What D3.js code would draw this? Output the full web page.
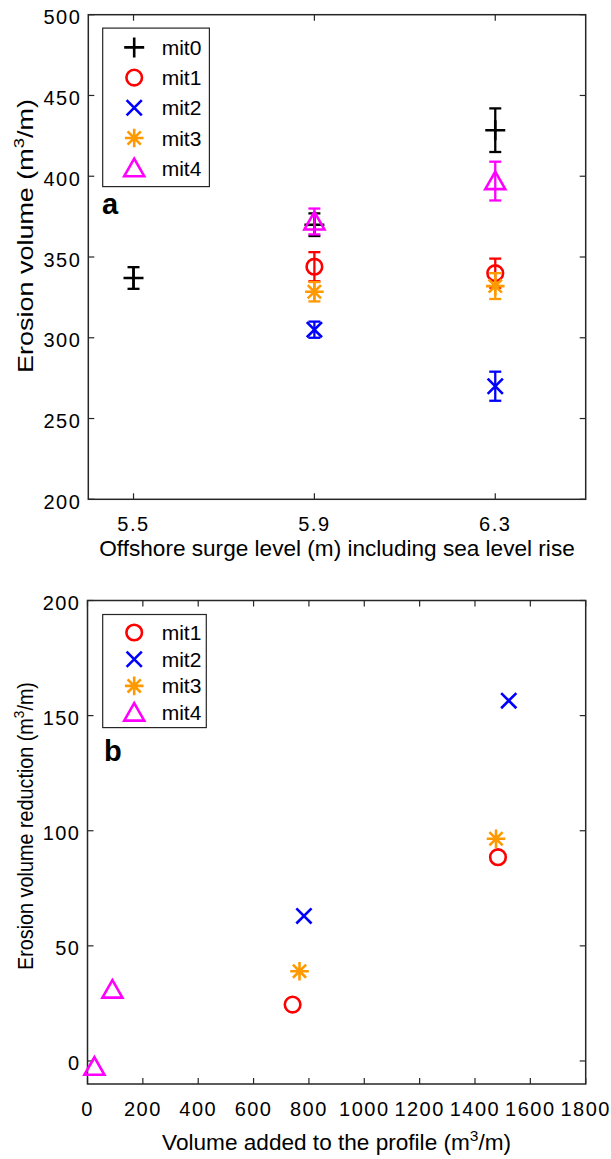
<!DOCTYPE html>
<html>
<head>
<meta charset="utf-8">
<script src="https://cdn.jsdelivr.net/npm/d3@7"></script>
<style>
  body { margin: 0; background: #fff; }
  text { font-family: "Liberation Sans", Arial, sans-serif; fill: #000; }
  .tick-label { font-size: 20px; letter-spacing: 1.5px; }
  .axis-label { font-size: 22.6px; }
  .legend-label { font-size: 21px; }
  .panel-label { font-size: 29px; font-weight: bold; }
</style>
</head>
<body>
<div id="chart"></div>
<script>
// ---- data, panel a ----
const surgeLevels = [5.5, 5.9, 6.3];
const mit0Volume = [337, 370, 428.5];
const mit0Err = [6.7, 7, 13.5];
const mit1Volume = [null, 344, 340];
const mit1Err = [null, 9, 9];
const mit2Volume = [null, 305, 270];
const mit2Err = [null, 5, 9];
const mit3Volume = [null, 328.5, 332];
const mit3Err = [null, 6, 8];
const mit4Volume = [null, 372, 397];
const mit4Err = [null, 8, 12];

// ---- data, panel b ----
const mit1Added = [741, 1483];
const mit1Reduction = [24.5, 88.5];
const mit2Added = [782, 1522];
const mit2Reduction = [63, 156.5];
const mit3Added = [766, 1476];
const mit3Reduction = [39, 96.5];
const mit4Added = [25, 90];
const mit4Reduction = [-2.5, 31];

const surgeTicks = [5.5, 5.9, 6.3];
const volumeTicks = [200, 250, 300, 350, 400, 450, 500];
const addedTicks = [0, 200, 400, 600, 800, 1000, 1200, 1400, 1600, 1800];
const reductionTicks = [0, 50, 100, 150, 200];

const seriesA = [
  { name: "mit0", marker: "plus", color: "#000000", values: mit0Volume, err: mit0Err },
  { name: "mit1", marker: "circle", color: "#ff0000", values: mit1Volume, err: mit1Err },
  { name: "mit2", marker: "cross", color: "#0000ff", values: mit2Volume, err: mit2Err },
  { name: "mit3", marker: "star", color: "#ff9900", values: mit3Volume, err: mit3Err },
  { name: "mit4", marker: "triangle", color: "#ff00ff", values: mit4Volume, err: mit4Err }
];
const seriesB = [
  { name: "mit1", marker: "circle", color: "#ff0000", x: mit1Added, y: mit1Reduction },
  { name: "mit2", marker: "cross", color: "#0000ff", x: mit2Added, y: mit2Reduction },
  { name: "mit3", marker: "star", color: "#ff9900", x: mit3Added, y: mit3Reduction },
  { name: "mit4", marker: "triangle", color: "#ff00ff", x: mit4Added, y: mit4Reduction }
];

const width = 611, height = 1159;
const svg = d3.select("#chart").append("svg")
  .attr("width", width).attr("height", height);

const axisColor = "#262626";
const tickLen = 6;

// draw a MATLAB-ish marker
function drawMarker(g, type, x, y, color) {
  const p = d3.path();
  if (type === "plus") {
    const s = 10;
    p.moveTo(x - s, y); p.lineTo(x + s, y);
    p.moveTo(x, y - s); p.lineTo(x, y + s);
  } else if (type === "cross") {
    const s = 7.6;
    p.moveTo(x - s, y - s); p.lineTo(x + s, y + s);
    p.moveTo(x - s, y + s); p.lineTo(x + s, y - s);
  } else if (type === "star") {
    const s = 9.3, d = 6.6;
    p.moveTo(x - s, y); p.lineTo(x + s, y);
    p.moveTo(x, y - s); p.lineTo(x, y + s);
    p.moveTo(x - d, y - d); p.lineTo(x + d, y + d);
    p.moveTo(x - d, y + d); p.lineTo(x + d, y - d);
  } else if (type === "triangle") {
    p.moveTo(x, y - 9.5); p.lineTo(x + 10, y + 8); p.lineTo(x - 10, y + 8); p.closePath();
  }
  if (type === "circle") {
    g.append("circle").attr("cx", x).attr("cy", y).attr("r", 7.8)
      .attr("fill", "none").attr("stroke", color).attr("stroke-width", 2.6);
  } else {
    g.append("path").attr("d", p.toString())
      .attr("fill", "none").attr("stroke", color).attr("stroke-width", 2.6)
      .attr("stroke-linejoin", "miter");
  }
}

// frame, ticks on all four sides, tick labels
function drawFrame(x, y, xTicks, yTicks, xFmt) {
  const [x0, x1] = x.range();
  const [y0, y1] = y.range();
  const g = svg.append("g");
  xTicks.forEach(t => {
    g.append("line").attr("x1", x(t)).attr("x2", x(t)).attr("y1", y0).attr("y2", y0 - tickLen)
      .attr("stroke", axisColor).attr("stroke-width", 1.2);
    g.append("line").attr("x1", x(t)).attr("x2", x(t)).attr("y1", y1).attr("y2", y1 + tickLen)
      .attr("stroke", axisColor).attr("stroke-width", 1.2);
    g.append("text").attr("class", "tick-label")
      .attr("x", x(t)).attr("y", y0 + 32).attr("text-anchor", "middle")
      .text(xFmt(t));
  });
  yTicks.forEach(t => {
    g.append("line").attr("x1", x0).attr("x2", x0 + tickLen).attr("y1", y(t)).attr("y2", y(t))
      .attr("stroke", axisColor).attr("stroke-width", 1.2);
    g.append("line").attr("x1", x1).attr("x2", x1 - tickLen).attr("y1", y(t)).attr("y2", y(t))
      .attr("stroke", axisColor).attr("stroke-width", 1.2);
    g.append("text").attr("class", "tick-label")
      .attr("x", x0 - 7).attr("y", y(t) + 9.5).attr("text-anchor", "end")
      .text(t);
  });
  g.append("rect").attr("x", x0).attr("y", y1)
    .attr("width", x1 - x0).attr("height", y0 - y1)
    .attr("fill", "none").attr("stroke", axisColor).attr("stroke-width", 1.5);
}

function labelWithSup(sel, before, sup, after) {
  sel.append("tspan").text(before);
  sel.append("tspan").attr("dy", -9).attr("font-size", "15.5px").text(sup);
  sel.append("tspan").attr("dy", 9).text(after);
  return sel;
}

// vertical label, stretched along its length to span a given extent
function yLabel(cx, cy, span, before, sup, after) {
  const t = labelWithSup(svg.append("text").attr("class", "axis-label")
    .attr("text-anchor", "middle"), before, sup, after);
  const len = t.node().getComputedTextLength();
  const k = span / len;
  t.attr("transform", `translate(${cx},${cy}) rotate(-90) scale(${k},1)`);
}

function drawLegend(list, bx, by, bw, bh, rowStart, rowStep) {
  const g = svg.append("g");
  g.append("rect").attr("x", bx).attr("y", by).attr("width", bw).attr("height", bh)
    .attr("fill", "#fff").attr("stroke", axisColor).attr("stroke-width", 1.2);
  list.forEach((s, i) => {
    const cy = rowStart + i * rowStep;
    drawMarker(g, s.marker, bx + 31.5, cy, s.color);
    g.append("text").attr("class", "legend-label")
      .attr("x", bx + 59).attr("y", cy + 7.5).text(s.name);
  });
}

// ---------------- panel a ----------------
const xA = d3.scaleLinear().domain([5.4, 6.5]).range([88.3, 585.7]);
const yA = d3.scaleLinear().domain([200, 500]).range([499.3, 14.7]);

drawFrame(xA, yA, surgeTicks, volumeTicks, d => d.toFixed(1));

const gA = svg.append("g");
seriesA.forEach(s => {
  surgeLevels.forEach((lvl, i) => {
    const v = s.values[i];
    if (v == null) return;
    const cx = xA(lvl);
    const top = yA(v + s.err[i]), bot = yA(v - s.err[i]);
    gA.append("line").attr("x1", cx).attr("x2", cx).attr("y1", top).attr("y2", bot)
      .attr("stroke", s.color).attr("stroke-width", 2.3);
    [top, bot].forEach(yy => {
      gA.append("line").attr("x1", cx - 6).attr("x2", cx + 6).attr("y1", yy).attr("y2", yy)
        .attr("stroke", s.color).attr("stroke-width", 2.3);
    });
    drawMarker(gA, s.marker, cx, yA(v), s.color);
  });
});

drawLegend(seriesA, 102.7, 28.1, 106.7, 158.5, 47.4, 30.2);

svg.append("text").attr("class", "panel-label").attr("x", 102).attr("y", 214).text("a");

svg.append("text").attr("class", "axis-label")
  .attr("x", (88.3 + 585.7) / 2).attr("y", 556).attr("text-anchor", "middle")
  .text("Offshore surge level (m) including sea level rise");

yLabel(33, 236, 274, "Erosion volume (m", "3", "/m)");

// ---------------- panel b ----------------
const xB = d3.scaleLinear().domain([0, 1800]).range([87.5, 585.7]);
const yB = d3.scaleLinear().domain([-10, 200]).range([1084, 600.5]);

drawFrame(xB, yB, addedTicks, reductionTicks, d => d);

const gB = svg.append("g");
seriesB.forEach(s => {
  s.x.forEach((xv, i) => drawMarker(gB, s.marker, xB(xv), yB(s.y[i]), s.color));
});

drawLegend(seriesB, 102.7, 614.5, 103.6, 113.1, 632.5, 26.7);

svg.append("text").attr("class", "panel-label").attr("x", 104).attr("y", 761).text("b");

labelWithSup(svg.append("text").attr("class", "axis-label")
  .attr("x", (87.5 + 585.7) / 2).attr("y", 1150).attr("text-anchor", "middle"),
  "Volume added to the profile (m", "3", "/m)");

yLabel(33, 826, 288, "Erosion volume reduction (m", "3", "/m)");
</script>
</body>
</html>
